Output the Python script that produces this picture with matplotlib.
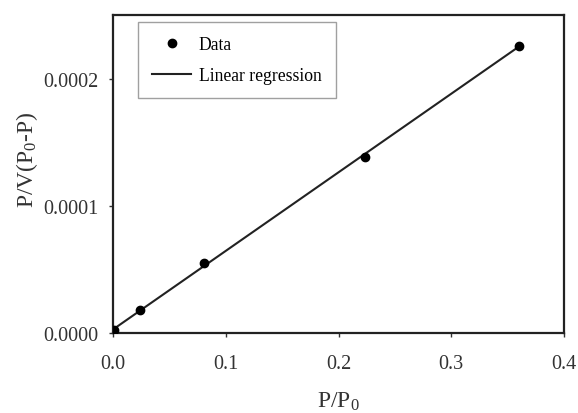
import matplotlib
matplotlib.use("Agg")
import matplotlib.pyplot as plt
import numpy as np

plt.rcParams['font.family'] = ['Liberation Serif', 'DejaVu Serif']
plt.rcParams['mathtext.fontset'] = 'custom'
plt.rcParams['mathtext.rm'] = 'Liberation Serif'
plt.rcParams['mathtext.it'] = 'Liberation Serif'

# Data
p_rel = [0.001, 0.024, 0.081, 0.2235, 0.360]
y_vals = [0.0000020, 0.0000181, 0.0000551, 0.0001386, 0.0002260]
x_ticks = [0.0, 0.1, 0.2, 0.3, 0.4]
y_ticks = [0.0, 0.0001, 0.0002]

fig = plt.figure(figsize=(5.78, 4.14), dpi=100)
ax = fig.add_axes([113/578, 1-334/414, (564-113)/578, (334-16)/414])

slope, intercept = np.polyfit(p_rel, y_vals, 1)
xl = np.array([0.0, max(p_rel)])
ax.plot(p_rel, y_vals, 'o', color='black', markersize=6, label='Data', zorder=3)
ax.plot(xl, slope*xl + intercept, '-', color='#222222', linewidth=1.5, label='Linear regression')

ax.set_xlim(0, 0.4)
ax.set_ylim(0, 0.00025)
ax.set_xticks(x_ticks)
ax.set_xticklabels([f"{v:.1f}" for v in x_ticks])
ax.set_yticks(y_ticks)
ax.set_yticklabels([f"{v:.4f}" for v in y_ticks])
ax.tick_params(direction='out', length=3, width=1, labelsize=14.5, colors='#333333', labelcolor='#333333')
ax.tick_params(axis='y', pad=7.5)
ax.tick_params(axis='x', pad=12)
for s in ax.spines.values():
    s.set_linewidth(1.6)
    s.set_color('#222222')

ax.set_xlabel('P/P$_0$', fontsize=17, color='#333333')
ax.set_ylabel('P/V(P$_0$-P)', fontsize=17, color='#333333')
ax.xaxis.set_label_coords(0.5, -(391-334)/318)
ax.yaxis.set_label_coords((40-113)/451, (334-160)/318)

leg = ax.legend(loc='upper left', bbox_to_anchor=((138-113)/451, (334-23)/318), borderaxespad=0,
                frameon=True, fancybox=False, fontsize=12.7, handlelength=2.2, borderpad=0.8,
                labelspacing=0.8, handletextpad=0.45)
leg.get_frame().set_edgecolor('#888888')
leg.get_frame().set_linewidth(1.0)

fig.savefig('out.png', dpi=100)
